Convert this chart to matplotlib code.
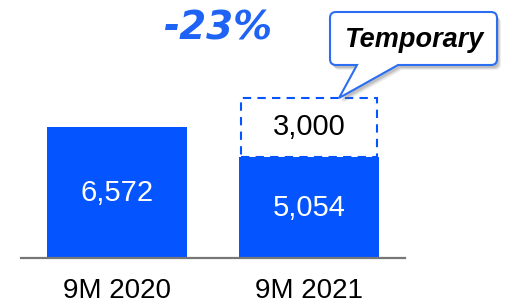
import matplotlib.pyplot as plt
from matplotlib.path import Path
from matplotlib.patches import PathPatch
import matplotlib.transforms as mtransforms

categories = ['9M 2020', '9M 2021']
base_values = [6572, 5054]
temporary_values = [0, 3000]
change_label = '-23%'
callout_label = 'Temporary'

W, H = 505, 306
blue = '#0455FF'

fig = plt.figure(figsize=(W / 100, H / 100), dpi=100)
ax = fig.add_axes([21 / W, 48 / H, 384 / W, 239 / H])
ax.patch.set_visible(False)

x = range(len(categories))
ax.bar(x, base_values, width=0.73, color=blue, zorder=2)
for i in x:
    if temporary_values[i] > 0:
        ax.bar(i, temporary_values[i], bottom=base_values[i], width=0.71,
               facecolor='white', edgecolor=blue, linewidth=1.5,
               linestyle=(0, (4, 3)), zorder=1)
        ax.text(i, base_values[i] + temporary_values[i] / 2, f'{temporary_values[i]:,}',
                ha='center', va='center', fontsize=21, color='black',
                family='Liberation Sans')
    ax.text(i, base_values[i] / 2, f'{base_values[i]:,}', ha='center', va='center',
            fontsize=21, color='white', family='Liberation Sans', zorder=3)

ax.set_xlim(-0.5, 1.5)
ax.set_ylim(0, 12000)
for s in ['top', 'left', 'right']:
    ax.spines[s].set_visible(False)
ax.spines['bottom'].set_color('#777777')
ax.spines['bottom'].set_linewidth(1.6)
ax.spines['bottom'].set_zorder(4)
ax.set_yticks([])
ax.set_xticks(list(x))
ax.set_xticklabels(categories, fontsize=20, family='Liberation Sans')
ax.tick_params(axis='x', length=0, pad=14.5)

# -23% label
fig.text(218 / W, 1 - 28 / H, change_label, ha='center', va='center',
         fontsize=28, color='#1f63f5', fontweight='bold', fontstyle='italic',
         family='DejaVu Sans')

# speech bubble (pixel coordinates, y measured from top)
pix = mtransforms.Affine2D().scale(1 / W, -1 / H).translate(0, 1) + fig.transFigure
verts = [(336, 12), (491, 12), (497, 12), (497, 18), (497, 59), (497, 65), (491, 65),
         (398, 65), (339, 98), (357, 65), (336, 65), (330, 65), (330, 59),
         (330, 18), (330, 12), (336, 12), (336, 12)]
codes = [Path.MOVETO, Path.LINETO, Path.CURVE3, Path.CURVE3, Path.LINETO, Path.CURVE3,
         Path.CURVE3, Path.LINETO, Path.LINETO, Path.LINETO, Path.LINETO, Path.CURVE3,
         Path.CURVE3, Path.LINETO, Path.CURVE3, Path.CURVE3, Path.CLOSEPOLY]
bubble = Path(verts, codes)
for dx, dy, a in [(4, 5, 0.12), (3, 4, 0.18), (2, 3, 0.25)]:
    shadow = mtransforms.Affine2D().translate(dx, dy) + pix
    fig.patches.append(PathPatch(bubble, transform=shadow, facecolor='#777777',
                                 edgecolor='none', alpha=a))
fig.patches.append(PathPatch(bubble, transform=pix, facecolor='white',
                             edgecolor='#2b6ef2', linewidth=1.5))
fig.text(414 / W, 1 - 40 / H, callout_label, ha='center', va='center', fontsize=19.5,
         fontweight='bold', fontstyle='italic', family='Liberation Sans', color='black')

fig.savefig('out.png', dpi=100)
